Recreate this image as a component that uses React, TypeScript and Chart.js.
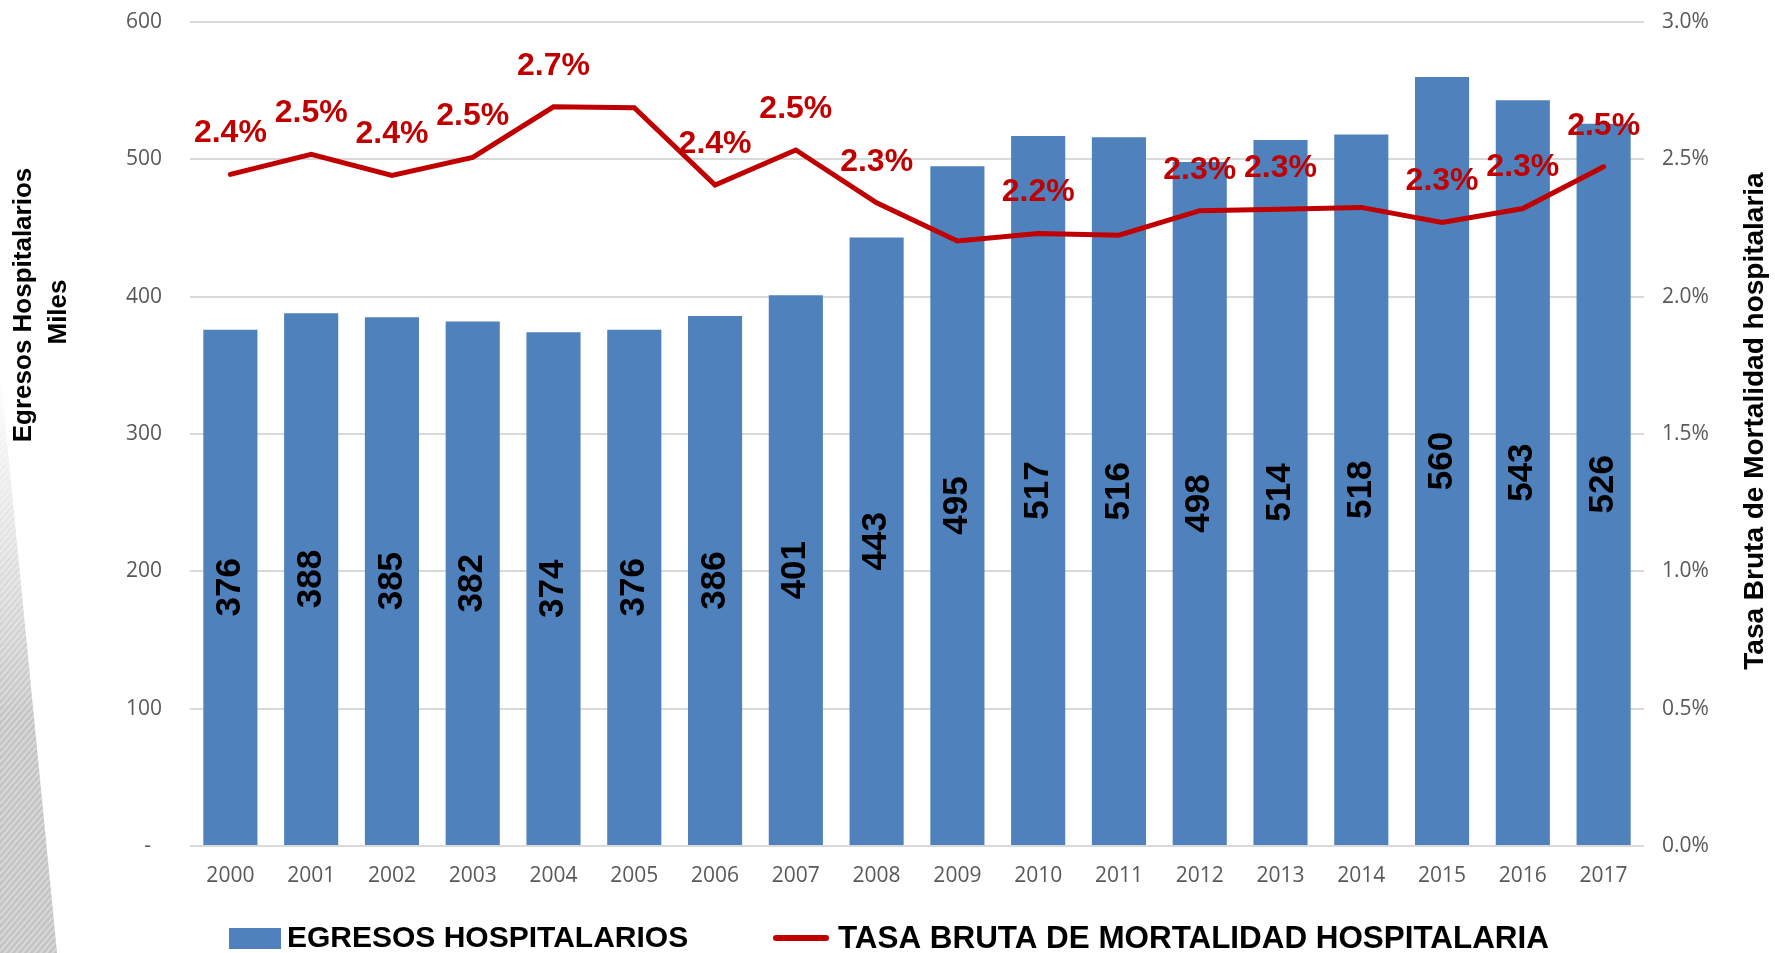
import { useEffect, useRef } from 'react';
import { Chart, registerables } from 'chart.js';

Chart.register(...registerables);

const years = ['2000', '2001', '2002', '2003', '2004', '2005', '2006', '2007', '2008', '2009', '2010', '2011', '2012', '2013', '2014', '2015', '2016', '2017'];
const egresos = [376, 388, 385, 382, 374, 376, 386, 401, 443, 495, 517, 516, 498, 514, 518, 560, 543, 526];
const tasa = [2.445, 2.518, 2.441, 2.507, 2.691, 2.688, 2.406, 2.534, 2.342, 2.203, 2.23, 2.224, 2.313, 2.318, 2.325, 2.27, 2.321, 2.473];
const tasaLabelShown = [true, true, true, true, true, false, true, true, true, false, true, false, true, true, false, true, true, true];

const leftTitle = ['Egresos Hospitalarios', 'Miles'];
const rightTitle = 'Tasa Bruta de Mortalidad hospitalaria';
const legendBar = 'EGRESOS HOSPITALARIOS';
const legendLine = 'TASA BRUTA DE MORTALIDAD HOSPITALARIA';

const BLUE = '#4F81BD';
const RED = '#C00000';
const BOLD = '"Liberation Sans", Arial, sans-serif';
const CLEAR = 'rgba(0,0,0,0)';

const decoPlugin = {
  id: 'deco',
  beforeDraw(chart: any) {
    const ctx = chart.ctx;
    ctx.save();
    ctx.beginPath();
    ctx.moveTo(0, 370);
    ctx.lineTo(57, 953);
    ctx.lineTo(0, 953);
    ctx.closePath();
    ctx.clip();
    const g = ctx.createLinearGradient(0, 370, 0, 720);
    g.addColorStop(0, 'rgba(196,196,196,0)');
    g.addColorStop(1, 'rgba(196,196,196,1)');
    ctx.fillStyle = g;
    ctx.fillRect(0, 370, 60, 583);
    ctx.strokeStyle = 'rgba(255,255,255,0.35)';
    ctx.lineWidth = 2;
    for (let k = 300; k < 1100; k += 7) {
      ctx.beginPath();
      ctx.moveTo(0, k);
      ctx.lineTo(60, k - 70);
      ctx.stroke();
    }
    ctx.restore();
  },
};

const labelsPlugin = {
  id: 'valueLabels',
  afterDatasetsDraw(chart: any) {
    const ctx = chart.ctx;
    ctx.save();
    ctx.textAlign = 'center';
    ctx.textBaseline = 'middle';
    ctx.fillStyle = '#000';
    ctx.font = `bold 35px ${BOLD}`;
    const barMeta = chart.getDatasetMeta(0);
    barMeta.data.forEach((el: any, i: number) => {
      const p = el.getProps(['x', 'y', 'base'], true);
      ctx.save();
      ctx.translate(p.x, (p.y + p.base) / 2);
      ctx.rotate(-Math.PI / 2);
      ctx.fillText(String(egresos[i]), 0, 0);
      ctx.restore();
    });
    const lineMeta = chart.getDatasetMeta(1);
    ctx.fillStyle = RED;
    ctx.font = `bold 32px ${BOLD}`;
    lineMeta.data.forEach((pt: any, i: number) => {
      if (!tasaLabelShown[i]) return;
      ctx.fillText(tasa[i].toFixed(1) + '%', pt.x, pt.y - 41);
    });
    ctx.restore();
  },
};

const titlesLegendPlugin = {
  id: 'titlesLegend',
  afterDraw(chart: any) {
    const ctx = chart.ctx;
    ctx.save();
    ctx.fillStyle = '#000';
    ctx.textAlign = 'center';
    ctx.textBaseline = 'alphabetic';
    ctx.font = `bold 26px ${BOLD}`;
    const leftPos = [
      [31, 305],
      [66, 312],
    ];
    leftTitle.forEach((t, i) => {
      ctx.save();
      ctx.translate(leftPos[i][0], leftPos[i][1]);
      ctx.rotate(-Math.PI / 2);
      ctx.fillText(t, 0, 0);
      ctx.restore();
    });
    ctx.font = `bold 28px ${BOLD}`;
    ctx.save();
    ctx.translate(1763, 421);
    ctx.rotate(-Math.PI / 2);
    ctx.fillText(rightTitle, 0, 0);
    ctx.restore();

    // legend
    ctx.textAlign = 'left';
    ctx.textBaseline = 'middle';
    ctx.fillStyle = BLUE;
    ctx.fillRect(229, 928, 52, 21);
    ctx.fillStyle = '#000';
    ctx.font = `bold 30px ${BOLD}`;
    ctx.fillText(legendBar, 287, 939);
    ctx.strokeStyle = RED;
    ctx.lineWidth = 6;
    ctx.lineCap = 'round';
    ctx.beginPath();
    ctx.moveTo(776, 938);
    ctx.lineTo(826, 938);
    ctx.stroke();
    ctx.font = `bold 31.4px ${BOLD}`;
    ctx.fillText(legendLine, 838, 939);
    ctx.restore();
  },
};

export default function App() {
  const ref = useRef<HTMLCanvasElement>(null);
  useEffect(() => {
    if (!ref.current) return;
    const tickFont = { family: '"Open Sans", "Liberation Sans", sans-serif', size: 21 };
    const chart = new Chart(ref.current, {
      type: 'bar',
      data: {
        labels: years,
        datasets: [
          {
            type: 'bar',
            label: legendBar,
            data: egresos,
            backgroundColor: BLUE,
            barPercentage: 0.67,
            categoryPercentage: 1,
            yAxisID: 'y',
            order: 2,
          } as any,
          {
            type: 'line',
            label: legendLine,
            data: tasa,
            borderColor: RED,
            backgroundColor: RED,
            borderWidth: 5,
            pointRadius: 0,
            tension: 0,
            borderCapStyle: 'round',
            yAxisID: 'y1',
            order: 1,
          } as any,
        ],
      },
      options: {
        responsive: true,
        maintainAspectRatio: false,
        animation: false,
        layout: { padding: { top: 22, bottom: 57, left: 0, right: 0 } },
        plugins: { legend: { display: false }, tooltip: { enabled: false } },
        scales: {
          x: {
            grid: { display: false, drawTicks: false },
            border: { display: false },
            ticks: { color: '#595959', font: tickFont, padding: 17, maxRotation: 0, autoSkip: false },
            afterFit: (s: any) => { s.height = 50; },
          },
          y: {
            position: 'left',
            min: 0,
            max: 600,
            grid: { color: '#D9D9D9', lineWidth: 2, drawTicks: true, tickLength: 26, tickColor: CLEAR },
            border: { display: false },
            ticks: {
              stepSize: 100,
              color: '#595959',
              font: tickFont,
              padding: 2,
              callback: (v: any) => (Number(v) === 0 ? '-  ' : String(v)),
            },
            afterFit: (s: any) => { s.width = 190; },
          },
          y1: {
            position: 'right',
            min: 0,
            max: 3,
            grid: { display: false, drawTicks: true, tickLength: 16, tickColor: CLEAR },
            border: { display: false },
            ticks: {
              stepSize: 0.5,
              color: '#595959',
              font: tickFont,
              padding: 2,
              callback: (v: any) => Number(v).toFixed(1) + '%',
            },
            afterFit: (s: any) => { s.width = 131; },
          },
        },
      } as any,
      plugins: [decoPlugin, labelsPlugin, titlesLegendPlugin],
    });
    return () => chart.destroy();
  }, []);
  return (
    <div style={{ position: 'fixed', left: 0, top: 0, width: 1775, height: 953, background: '#fff' }}>
      <canvas ref={ref} />
    </div>
  );
}
